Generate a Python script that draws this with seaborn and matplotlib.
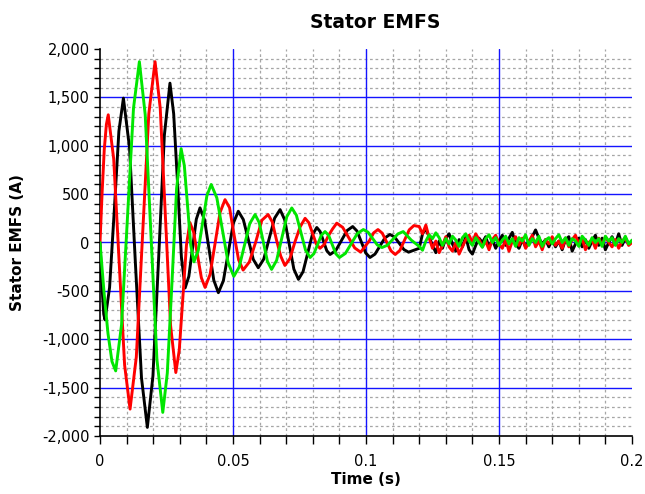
import matplotlib
matplotlib.use("Agg")
import numpy as np
import pandas as pd
import matplotlib.pyplot as plt
import seaborn as sns
from matplotlib.ticker import MultipleLocator, FuncFormatter

# ---------------- data ----------------
red_t = [0.0, 0.0008, 0.0016, 0.0024, 0.0031, 0.00515, 0.0072, 0.00925, 0.0113,
         0.01365, 0.016, 0.01835, 0.0207, 0.02265, 0.0246, 0.02655, 0.0285,
         0.0298, 0.03115, 0.0325, 0.0338, 0.0352, 0.03665, 0.0381, 0.0395,
         0.04138, 0.04325, 0.04513, 0.047,
         0.0487, 0.0504, 0.0521, 0.0538,
         0.05615, 0.0585, 0.06085, 0.0632,
         0.06478, 0.06635, 0.06793, 0.0695,
         0.0714, 0.0733, 0.0752, 0.0771,
         0.0785, 0.0799, 0.0813, 0.0827,
         0.08428, 0.08585, 0.08743, 0.089,
         0.09125, 0.0935, 0.09575, 0.098,
         0.09963, 0.10125, 0.10288, 0.1045,
         0.10613, 0.10775, 0.10938, 0.111,
         0.11275, 0.1145, 0.11625, 0.118]
red_v = [0, 520, 960, 1220, 1320, 864, -201, -1266, -1722,
         -1184, 73, 1330, 1869, 1386, 262, -862, -1344,
         -1112, -569, -27, 206, 106, -129, -364, -464,
         -330, -10, 310, 443,
         360, 79, -178, -285,
         -201, 2, 230, 289,
         212, 26, -140, -237,
         -166, 7, 160, 250,
         205, 95, -15, -60,
         -22, 70, 140, 200,
         156, 50, -56, -100,
         -40, 17, 100, 134,
         96, 5, -86, -124,
         -81, 25, 131, 175]

green_t = [0.0, 0.0015, 0.003, 0.0045, 0.0059, 0.0081, 0.01035, 0.0126, 0.0148,
           0.017, 0.0192, 0.0214, 0.0236, 0.0253, 0.0271, 0.0288, 0.0305,
           0.0317, 0.0329, 0.0341, 0.0353,
           0.03693, 0.03855, 0.04018, 0.0418,
           0.04393, 0.04605, 0.04818, 0.0503,
           0.0523, 0.0543, 0.0563, 0.0583,
           0.05985, 0.0614, 0.06295, 0.0645,
           0.0664, 0.0683, 0.0702, 0.0721,
           0.07383, 0.07555, 0.07728, 0.079,
           0.0804, 0.0818, 0.0832, 0.0846,
           0.08595, 0.0873, 0.08865, 0.090,
           0.09225, 0.0945, 0.09675, 0.099,
           0.10075, 0.1025, 0.10425, 0.106,
           0.108, 0.110, 0.112, 0.114, 0.117]
green_v = [0, -510, -940, -1230, -1327, -850, 270, 1390, 1869,
           1320, 55, -1210, -1756, -1350, -390, 560, 970,
           795, 385, -25, -200,
           -83, 200, 483, 600,
           461, 125, -211, -350,
           -256, -30, 196, 289,
           206, 5, -196, -278,
           -185, 40, 265, 357,
           282, 101, -80, -155,
           -116, -21, 74, 113,
           74, -21, -116, -155,
           -113, -10, 93, 134,
           107, 41, -25, -52,
           -29, 30, 89, 113, 25]

black_t = [0.0, 0.0005, 0.001, 0.0014, 0.0019, 0.0036, 0.0054, 0.0071, 0.0088,
           0.0111, 0.0133, 0.0156, 0.0178, 0.0199, 0.0221, 0.0242, 0.0263,
           0.0277, 0.0292, 0.0306, 0.032, 0.0334, 0.0348, 0.0362, 0.0376,
           0.03933, 0.04105, 0.04278, 0.0445,
           0.04638, 0.04825, 0.05013, 0.052,
           0.05388, 0.05575, 0.05763, 0.0595,
           0.06155, 0.0636, 0.06565, 0.0677,
           0.06943, 0.07115, 0.07288, 0.0746,
           0.07633, 0.07805, 0.07978, 0.0815,
           0.08275, 0.084, 0.08525, 0.0865,
           0.08863, 0.09075, 0.09288, 0.095,
           0.09663, 0.09825, 0.09988, 0.1015,
           0.10338, 0.10525, 0.10713, 0.109,
           0.11075, 0.1125, 0.11425, 0.116]
black_v = [0, -310, -565, -740, -800, -465, 345, 1150, 1492,
           980, -210, -1400, -1911, -1380, -130, 1110, 1647,
           1330, 590, -150, -470, -350, -55, 240, 358,
           230, -80, -390, -519,
           -396, -98, 200, 323,
           237, 31, -175, -261,
           -172, 40, 252, 340,
           235, -20, -275, -381,
           -302, -113, 76, 155,
           114, 15, -84, -124,
           -83, 20, 123, 165,
           118, 5, -108, -155,
           -120, -36, 48, 83,
           57, -8, -73, -100]

# settled, noisy part of the three phases
tail_t = [0.12, 0.12125, 0.1225, 0.12375, 0.125, 0.12625, 0.1275, 0.12875,
          0.13, 0.13125, 0.1325, 0.13375, 0.135, 0.13625, 0.1375, 0.13875,
          0.14, 0.14125, 0.1425, 0.14375, 0.145, 0.14625, 0.1475, 0.14875,
          0.15, 0.15125, 0.1525, 0.15375, 0.155, 0.15625, 0.1575, 0.15875,
          0.16, 0.16125, 0.1625, 0.16375, 0.165, 0.16625, 0.1675, 0.16875,
          0.17, 0.17125, 0.1725, 0.17375, 0.175, 0.17625, 0.1775, 0.17875,
          0.18, 0.18125, 0.1825, 0.18375, 0.185, 0.18625, 0.1875, 0.18875,
          0.19, 0.19125, 0.1925, 0.19375, 0.195, 0.19625, 0.1975, 0.19875,
          0.2]
red_tail = [165, 90, 180, 45, -60, 15, -105, -30, 60, -45,
            -90, 0, -120, -45, 30, 75, 0, 90, 30, -45,
            15, -75, 30, 75, -15, -60, 30, -90, 15, 60,
            -30, 45, -60, 0, 75, -45, 15, -75, 30, -15,
            60, -30, 15, -60, 45, -45, 30, 75, -15, 45,
            -75, 0, 30, -60, 45, -30, 60, 0, -45, 30,
            -60, 15, 45, -30, 0]
black_tail = [-60, 90, 140, 60, -30, -105, 15, -60, 45, 90,
              -15, -90, 30, -45, 60, -75, -120, -30, 45, 0,
              60, -45, 30, -60, 15, 75, -30, 45, 105, -15,
              -60, 30, -45, 15, 60, 130, 45, -15, 30, -45,
              30, -45, 15, -75, 30, 60, -90, -15, 45, -45,
              30, -60, 15, 75, -30, 45, -75, 0, 60, -15,
              90, -30, 45, -15, 15]
green_tail = [-40, -80, 15, 80, 40, 100, 50, -30, 40, -15,
              65, 25, -40, 50, 90, 15, -30, 50, 0, -50,
              40, 80, 0, 50, -30, 25, 65, -15, 40, -40,
              50, 15, 80, -30, 40, 0, 65, -40, 25, 50,
              -15, 40, 80, 0, 50, -30, 40, 15, -40, 65,
              25, -30, 50, 0, 40, -40, 65, 15, 50, -30,
              40, 0, 65, -15, 25]

phase_names = ["black", "red", "green"]
phase_colors = {"black": "#000000", "red": "#ff0000", "green": "#00e600"}

# ---------------- figure ----------------
sns.set_style("white")
plt.rcParams['font.family'] = ['DejaVu Sans']
plt.rcParams['text.color'] = 'black'
plt.rcParams['axes.labelcolor'] = 'black'

fig = plt.figure(figsize=(6.45, 4.94), dpi=100)
ax = fig.add_axes([100 / 645, 1 - 436 / 494, 532 / 645, 387 / 494])

df = pd.concat([
    pd.DataFrame({"t": black_t + tail_t, "v": black_v + black_tail, "phase": "black"}),
    pd.DataFrame({"t": red_t + tail_t, "v": red_v + red_tail, "phase": "red"}),
    pd.DataFrame({"t": green_t + tail_t, "v": green_v + green_tail, "phase": "green"}),
], ignore_index=True)

sns.lineplot(data=df, x="t", y="v", hue="phase", hue_order=phase_names,
             palette=phase_colors, estimator=None, sort=False, linewidth=2.1,
             legend=False, ax=ax, zorder=3)

ax.set_xlim(0, 0.2)
ax.set_ylim(-2000, 2000)

# grid: minor dashed grey, major solid blue
for k in range(1, 20):
    if k % 5:
        ax.axvline(k * 0.01, color="#a6a6a6", lw=0.9, ls=(0, (2.2, 2.2)), zorder=0)
for k in range(-19, 20):
    if k % 5:
        ax.axhline(k * 100, color="#a6a6a6", lw=0.9, ls=(0, (2.2, 2.2)), zorder=0)
for k in (1, 2, 3):
    ax.axvline(k * 0.05, color="#1414ff", lw=1.0, zorder=1)
for k in range(-3, 4):
    ax.axhline(k * 500, color="#1414ff", lw=1.0, zorder=1)

ax.xaxis.set_major_locator(MultipleLocator(0.05))
ax.xaxis.set_minor_locator(MultipleLocator(0.01))
ax.yaxis.set_major_locator(MultipleLocator(500))
ax.yaxis.set_minor_locator(MultipleLocator(100))
ax.xaxis.set_major_formatter(FuncFormatter(lambda v, p: f"{v:g}" if abs(v) > 1e-12 else "0"))
ax.yaxis.set_major_formatter(FuncFormatter(lambda v, p: f"{int(round(v)):,}"))

ax.tick_params(axis="x", which="both", direction="out", length=6, width=1,
               colors="black", labelsize=10.5, pad=7, bottom=True)
ax.tick_params(axis="y", which="both", direction="out", length=4.5, width=1,
               colors="black", labelsize=10.5, pad=3, left=True)

for s in ("top", "right"):
    ax.spines[s].set_visible(False)
for s in ("left", "bottom"):
    ax.spines[s].set_color("black")
    ax.spines[s].set_linewidth(1.2)

ax.set_xlabel("Time (s)", fontsize=11, fontweight="bold", labelpad=2)
ax.set_ylabel("Stator EMFS (A)", fontsize=11, fontweight="bold", labelpad=12)
fig.text(375 / 645, 1 - 22 / 494, "Stator EMFS", ha="center", va="center",
         fontsize=13.5, fontweight="bold")

fig.savefig("out.png", dpi=100)
